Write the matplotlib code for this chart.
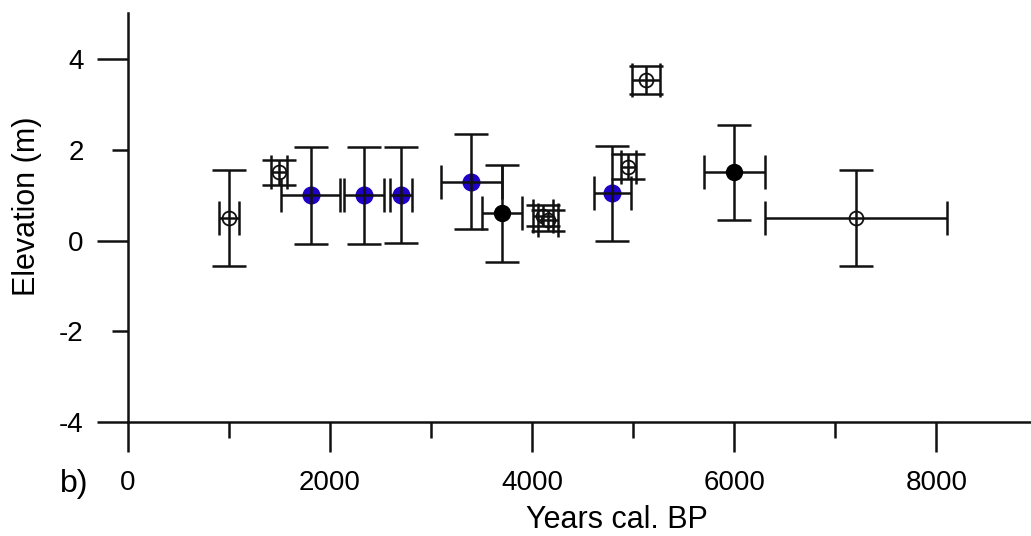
import matplotlib
matplotlib.use("Agg")
import matplotlib.pyplot as plt

plt.rcParams['font.family'] = ['Liberation Sans', 'DejaVu Sans']

# Open (hollow) circle samples
open_x = [1000, 1500, 4110, 4155, 4950, 5130, 7200]
open_y = [0.5, 1.5, 0.55, 0.45, 1.63, 3.53, 0.5]
open_xerr = [100, 80, 100, 100, 75, 140, 900]
open_yerr = [1.05, 0.28, 0.23, 0.23, 0.28, 0.31, 1.06]

# Blue filled samples
blue_x = [1810, 2340, 2700, 3400, 4795]
blue_y = [1.0, 1.0, 1.0, 1.3, 1.04]
blue_xerr = [290, 200, 110, 300, 183]
blue_yerr = [1.07, 1.07, 1.05, 1.04, 1.05]

# Black filled samples
black_x = [3700, 6000]
black_y = [0.6, 1.5]
black_xerr = [200, 300]
black_yerr = [1.07, 1.05]

x_major = [0, 2000, 4000, 6000, 8000]
x_minor = [1000, 3000, 5000, 7000]
y_major = [-4, 0, 4]
y_minor = [-2, 2]

W, H = 1031, 536
fig = plt.figure(figsize=(W / 100, H / 100), dpi=100)
ax = fig.add_axes([127.7 / W, 1 - 422.3 / H, (W - 127.7) / W, (422.3 - 13.4) / H])

ax.set_xlim(0, (W - 127.7) / 0.1011)
ax.set_ylim(-4, 5)

lw = 1.8
eb = dict(fmt='none', ecolor='#111111', elinewidth=lw, capsize=12, capthick=lw, zorder=3)
ax.errorbar(open_x, open_y, xerr=open_xerr, yerr=open_yerr, **eb)
ax.errorbar(blue_x, blue_y, xerr=blue_xerr, yerr=blue_yerr, **eb)
ax.errorbar(black_x, black_y, xerr=black_xerr, yerr=black_yerr, **eb)

ax.plot(open_x, open_y, 'o', ms=10, mfc='white', mec='#111111', mew=1.3, ls='none', zorder=2)
ax.plot(blue_x, blue_y, 'o', ms=12, mfc='#1e00c8', mec='#1e00c8', ls='none', zorder=2)
ax.plot(black_x, black_y, 'o', ms=11.5, mfc='black', mec='black', ls='none', zorder=4)

for s in ['top', 'right']:
    ax.spines[s].set_visible(False)
for s in ['left', 'bottom']:
    ax.spines[s].set_linewidth(lw)
    ax.spines[s].set_color('#111111')

ax.set_xticks(x_major)
ax.set_xticklabels([str(v) for v in x_major])
ax.set_xticks(x_minor, minor=True)
ax.set_yticks(y_major)
ax.set_yticklabels([str(v) for v in y_major])
ax.set_yticks(y_minor, minor=True)
ax.set_yticklabels([str(v) for v in y_minor], minor=True)

ax.tick_params(axis='x', which='major', direction='out', length=21.8, width=lw, labelsize=20, pad=12.5, color='#111111')
ax.tick_params(axis='x', which='minor', direction='out', length=11.3, width=lw, color='#111111')
ax.tick_params(axis='y', which='major', direction='out', length=22.3, width=lw, labelsize=20, pad=9.5, color='#111111')
ax.tick_params(axis='y', which='minor', direction='out', length=11.5, width=lw, labelsize=20, pad=20.3, color='#111111')

fig.text(74 / W, 1 - 492 / H, 'b)', fontsize=23, ha='center', va='baseline')
fig.text(617 / W, 1 - 528 / H, 'Years cal. BP', fontsize=22, ha='center', va='baseline')
fig.text(27 / W, 1 - 206 / H, 'Elevation (m)', fontsize=22, ha='center', va='center', rotation=90)

fig.savefig('out.png', dpi=100, facecolor='white')
